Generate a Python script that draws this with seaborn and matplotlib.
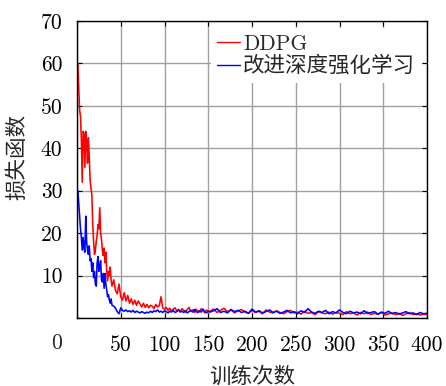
import matplotlib
matplotlib.use("Agg")
import matplotlib.pyplot as plt
import seaborn as sns
import pandas as pd

# ---------------- data ----------------
episodes = [*range(1, 41), *range(42, 151, 2), *range(152, 401, 4)]

ddpg_loss = [
    60.0, 54.0, 49.0, 47.5, 42.0, 32.0, 44.0, 43.5, 35.5, 44.0,
    41.0, 36.5, 42.5, 38.0, 32.5, 30.5, 29.0, 22.0, 18.0, 15.0,
    16.0, 18.0, 19.5, 22.0, 21.0, 26.0, 20.0, 18.5, 16.0, 14.7,
    16.5, 13.0, 15.5, 11.0, 8.8, 11.0, 10.0, 12.0, 9.0, 7.5,
    # 42..150 step 2
    9.0, 6.5, 5.7, 8.0, 5.0, 4.2, 6.0, 4.0, 5.3, 3.5,
    4.5, 3.2, 4.2, 3.0, 4.0, 3.3, 2.6, 3.5, 2.5, 3.2,
    2.4, 3.0, 2.8, 2.2, 3.2, 2.6, 2.9, 5.0, 2.4, 2.1,
    2.5, 1.8, 2.3, 1.6, 2.1, 2.4, 1.7, 2.0, 1.5, 2.2,
    1.8, 1.4, 2.0, 2.5, 1.6, 1.9, 1.3, 2.1, 1.7, 1.4,
    2.2, 1.8, 1.2, 1.9, 1.5,
    # 152..400 step 4
    1.6, 2.1, 1.3, 1.8, 2.3, 1.5, 1.9, 1.2, 1.7, 2.0,
    1.4, 1.1, 1.8, 1.3, 1.6, 1.0, 1.9, 1.4, 1.2, 1.7,
    1.3, 1.0, 1.5, 1.8, 1.2, 1.4, 0.9, 1.6, 1.1, 1.3,
    0.8, 1.5, 1.2, 1.0, 1.4, 0.9, 1.3, 1.1, 0.8, 1.5,
    1.0, 1.2, 0.7, 1.3, 1.0, 1.4, 0.8, 1.1, 0.9, 1.3,
    0.7, 1.0, 1.2, 0.8, 1.1, 0.6, 1.0, 1.3, 0.8, 1.0,
    0.7, 0.9, 0.8,
]

improved_loss = [
    30.0, 27.0, 24.0, 21.0, 19.0, 16.0, 19.0, 16.5, 15.5, 24.0,
    18.0, 16.0, 15.0, 17.0, 13.5, 14.0, 11.0, 13.0, 9.5, 11.0,
    8.0, 7.5, 13.0, 14.5, 11.0, 12.0, 13.5, 9.0, 8.5, 10.5,
    7.0, 10.5, 8.0, 6.5, 5.0, 5.5, 4.2, 3.5, 4.5, 3.0,
    # 42..150 step 2
    2.8, 2.3, 1.5, 1.0, 2.4, 1.8, 1.6, 1.9, 1.5, 1.7,
    1.4, 1.8, 1.3, 1.6, 1.4, 1.2, 1.5, 1.3, 1.1, 1.4,
    1.2, 1.6, 1.3, 1.7, 1.5, 1.9, 1.4, 1.6, 1.3, 1.7,
    1.5, 1.2, 1.6, 1.4, 1.8, 1.3, 1.5, 1.9, 1.4, 1.6,
    1.3, 1.7, 1.2, 1.5, 1.8, 1.4, 2.0, 1.5, 1.3, 1.7,
    1.4, 2.1, 1.5, 1.2, 1.6,
    # 152..400 step 4
    1.4, 1.7, 2.2, 1.3, 1.6, 1.2, 2.0, 1.5, 1.8, 1.3,
    1.6, 1.1, 2.1, 1.4, 1.7, 1.2, 1.5, 1.9, 1.3, 1.6,
    1.1, 1.4, 1.8, 1.2, 1.5, 1.0, 1.7, 1.3, 2.2, 1.4,
    1.1, 1.6, 1.3, 1.8, 1.0, 1.5, 1.2, 1.9, 1.3, 1.0,
    1.6, 1.2, 1.4, 1.0, 1.7, 1.1, 1.3, 1.5, 0.9, 1.4,
    1.1, 1.6, 1.0, 1.3, 0.9, 1.2, 1.5, 1.0, 1.2, 0.8,
    1.3, 1.0, 1.1,
]

series_names = ["DDPG", "改进深度强化学习"]
series_colors = ["#ff0000", "#0000ff"]
x_ticks = [0, 50, 100, 150, 200, 250, 300, 350, 400]
x_tick_labels = ["", "50", "100", "150", "200", "250", "300", "350", "400"]
y_ticks = [0, 10, 20, 30, 40, 50, 60, 70]
y_tick_labels = ["", "10", "20", "30", "40", "50", "60", "70"]
origin_label = "0"
x_label = "训练次数"
y_label = "损失函数"

# ---------------- build frame ----------------
df = pd.DataFrame({
    "episode": episodes * 2,
    "loss": ddpg_loss + improved_loss,
    "method": [series_names[0]] * len(episodes) + [series_names[1]] * len(episodes),
})

sns.set_style("ticks")
plt.rcParams["font.family"] = ["cmr10", "Noto Sans CJK SC", "DejaVu Sans"]
plt.rcParams["axes.formatter.use_mathtext"] = True
plt.rcParams["axes.unicode_minus"] = False

FS = 15.5

fig = plt.figure(figsize=(4.46, 3.86), dpi=100)
ax = fig.add_axes([77 / 446, 1 - 318 / 386, 350 / 446, 297 / 386])

sns.lineplot(
    data=df, x="episode", y="loss", hue="method",
    hue_order=series_names, palette=series_colors,
    estimator=None, sort=False, linewidth=1.15, ax=ax,
)

ax.set_xlim(0, 400)
ax.set_ylim(0, 70)
ax.set_xticks(x_ticks, labels=x_tick_labels)
ax.set_yticks(y_ticks, labels=y_tick_labels)
ax.grid(True, color="#a0a0a0", linewidth=1.0)
ax.set_axisbelow(True)
for s in ax.spines.values():
    s.set_linewidth(1.0)
    s.set_color("black")
    s.set_visible(True)

ax.tick_params(axis="both", direction="in", length=3.6, width=0.8,
               top=True, right=True, labelsize=FS, colors="black")
ax.tick_params(axis="x", pad=12.5)
ax.tick_params(axis="y", pad=10.5)

ax.set_xlabel(x_label, fontsize=FS)
ax.set_ylabel(y_label, fontsize=FS)
ax.xaxis.set_label_coords(0.5, -0.162)
ax.yaxis.set_label_coords(-0.143, 0.542)

ax.annotate(origin_label, xy=(0, 0), xycoords="data", xytext=(-20, -25),
            textcoords="offset pixels", ha="center", va="center", fontsize=FS)

leg = ax.legend(loc="upper right", bbox_to_anchor=(0.985, 0.978),
                frameon=True, fancybox=False, framealpha=1.0,
                facecolor="white", edgecolor="none", fontsize=FS,
                handlelength=1.05, handletextpad=0.15, labelspacing=0.1,
                borderpad=0.3, borderaxespad=0.0)
for line in leg.get_lines():
    line.set_linewidth(1.0)

fig.savefig("out.png", dpi=100)
